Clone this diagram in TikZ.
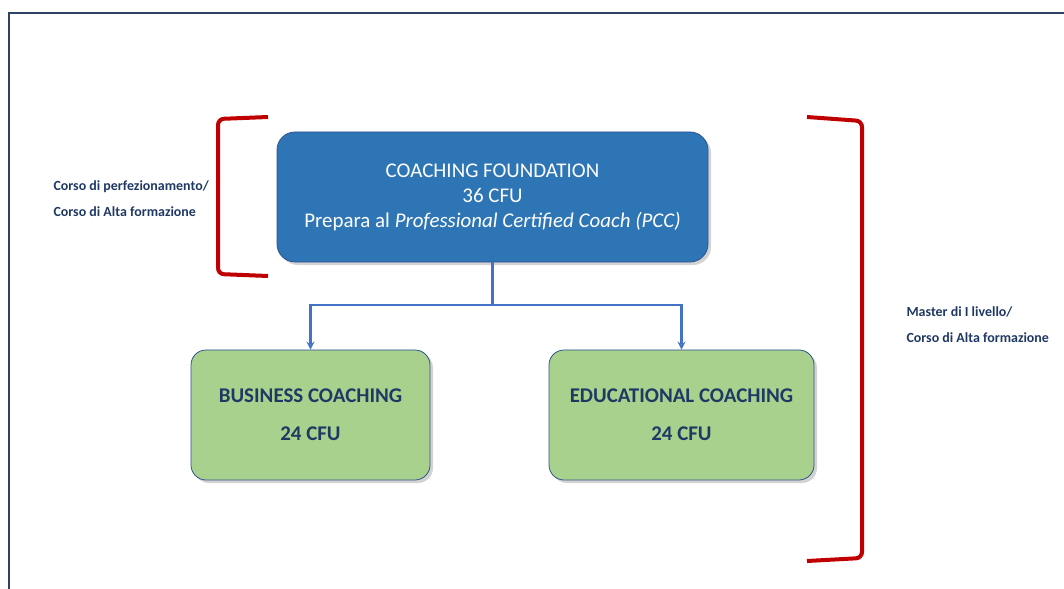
\documentclass[tikz,border=0pt]{standalone}
\usepackage{fontspec}
\setmainfont{Carlito}
\usepackage{tikz}
\usetikzlibrary{arrows,shapes,positioning,shadows}
\usepackage{xcolor}
\definecolor{cfframe}{RGB}{46,66,98}
\definecolor{cfblue}{RGB}{46,117,182}
\definecolor{cfborder}{RGB}{47,82,143}
\definecolor{cfgreen}{RGB}{169,209,142}
\definecolor{cfnavy}{RGB}{31,56,100}
\definecolor{cflink}{RGB}{68,114,196}
\definecolor{cfred}{RGB}{192,0,0}
\tikzstyle{foundation} = [rectangle, rounded corners=18bp, minimum width=431bp, minimum height=130bp, align=center, draw=cfborder, fill=cfblue, text=white, thick, drop shadow={shadow xshift=3bp, shadow yshift=-3bp, opacity=0.35}, font=\fontsize{21}{25}\selectfont]
\tikzstyle{module} = [rectangle, rounded corners=15bp, minimum width=239bp, minimum height=130bp, align=center, draw=cfborder, fill=cfgreen, text=cfnavy, thick, drop shadow={shadow xshift=3bp, shadow yshift=-3bp, opacity=0.35}, font=\bfseries\fontsize{21}{38}\selectfont]
\tikzstyle{link} = [line width=2.5bp,->,>=stealth,color=cflink]
\tikzstyle{bracket} = [line width=4bp, color=cfred, rounded corners=6bp]
\tikzstyle{sidelabel} = [anchor=west, align=left, text=cfnavy, font=\bfseries\fontsize{14}{26}\selectfont]

\begin{document}
\begin{tikzpicture}[x=1bp, y=-1bp]
\useasboundingbox (0,0) rectangle (1064,589);
% Outer frame
\draw[line width=2bp, cfframe] (9,600) -- (9,13) -- (1075,13);

% Foundation course
\node[foundation] (found) at (492.5,197) {COACHING FOUNDATION\\36 CFU\\Prepara al \textit{Professional Certified Coach (PCC)}};

% Specialisations
\node[module] (business) at (310.5,415) {BUSINESS COACHING\\24 CFU};
\node[module, minimum width=265bp] (educ) at (681.5,415) {EDUCATIONAL COACHING\\24 CFU};

% Connectors
\coordinate (split) at (492.5,305);
\draw[link] (found.south) -- (split) -| (business.north);
\draw[link] (split) -| (educ.north);

% Brackets
\draw[bracket] (268,117) -- (218,119) -- (218,274) -- (268,276);
\draw[bracket] (807,117) -- (862,121) -- (862,558) -- (807,561);

% Side labels
\node[sidelabel] (leftlabel) at (50,199) {Corso di perfezionamento/\\Corso di Alta formazione};
\node[sidelabel] (rightlabel) at (903,325) {Master di I livello/\\Corso di Alta formazione};
\end{tikzpicture}
\end{document}
